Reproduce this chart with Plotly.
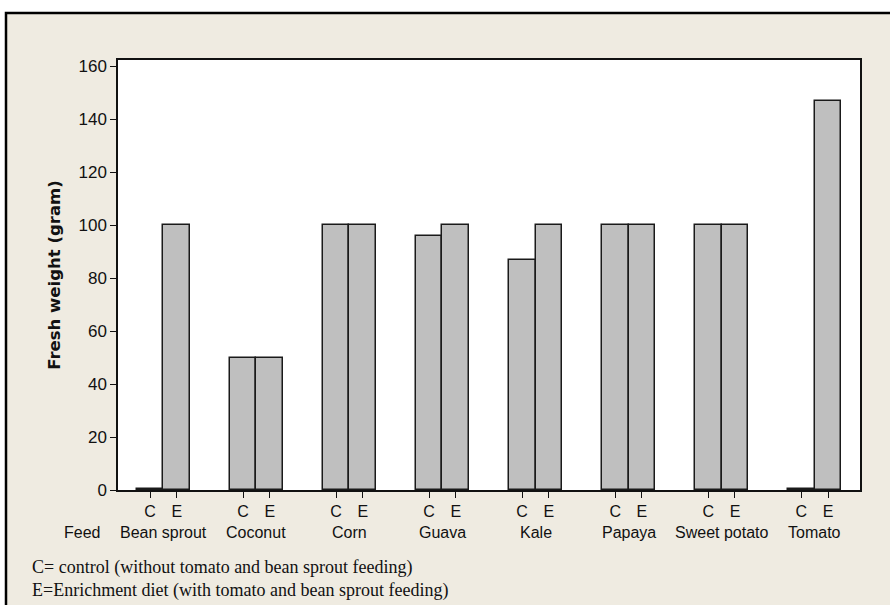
import plotly.graph_objects as go

feeds = ["Bean sprout", "Coconut", "Corn", "Guava", "Kale", "Papaya", "Sweet potato", "Tomato"]
control = [0.5, 50, 100, 96, 87, 100, 100, 0.5]
enrich = [100, 50, 100, 100, 100, 100, 100, 147]
sub_labels = ["C", "E"]
y_ticks = [0, 20, 40, 60, 80, 100, 120, 140, 160]
y_title = "Fresh weight (gram)"
x_axis_label = "Feed"
notes = ["C= control (without tomato and bean sprout feeding)",
         "E=Enrichment diet (with tomato and bean sprout feeding)"]

W, H = 890, 605
L, R, T, B = 118, 30, 60, 115
pw, ph = W - L - R, H - T - B

group_step = 3.477
xc = [i * group_step for i in range(len(feeds))]
xe = [v + 1 for v in xc]
pad = 1.196

def px_x(px):
    return (px - L) / pw

def px_y(py):
    return (H - B - py) / ph

bar_style = dict(color="#BFBFBF", line=dict(color="#1a1a1a", width=1.5))
fig = go.Figure()
fig.add_trace(go.Bar(x=xc, y=control, width=1.0, marker=bar_style, name="C"))
fig.add_trace(go.Bar(x=xe, y=enrich, width=1.0, marker=bar_style, name="E"))

tickvals = []
ticktext = []
for a, b in zip(xc, xe):
    tickvals += [a, b]
    ticktext += sub_labels

font = "Liberation Sans"
fig.update_layout(
    width=W, height=H,
    margin=dict(l=L, r=R, t=T, b=B),
    paper_bgcolor="white",
    plot_bgcolor="rgba(0,0,0,0)",
    showlegend=False,
    bargap=0,
    font=dict(family=font, size=16, color="#111"),
    xaxis=dict(range=[-pad, xe[-1] + pad], tickvals=tickvals, ticktext=ticktext,
               ticks="outside", ticklen=6, tickwidth=1.2, tickcolor="#111",
               showline=True, linecolor="#111", linewidth=1.5, mirror=True,
               showgrid=False, zeroline=False, tickfont=dict(size=16)),
    yaxis=dict(range=[0, 162.3], tickvals=y_ticks,
               ticks="outside", ticklen=6, tickwidth=1.2, tickcolor="#111",
               showline=True, linecolor="#111", linewidth=1.5, mirror=True,
               showgrid=False, zeroline=False, tickfont=dict(size=17),
               title=dict(text="<b>" + y_title + "</b>",
                          font=dict(family="DejaVu Sans", size=16.5), standoff=14)),
)

# outer beige frame and white plot area
fig.add_shape(type="rect", xref="paper", yref="paper",
              x0=px_x(6), x1=px_x(905), y0=px_y(620), y1=px_y(13),
              fillcolor="#EFEBE1", line=dict(color="black", width=2.5), layer="below")
fig.add_shape(type="rect", xref="paper", yref="paper",
              x0=0, x1=1, y0=0, y1=1, fillcolor="white", line=dict(width=0), layer="below")

for a, b, name in zip(xc, xe, feeds):
    fig.add_annotation(x=(a + b) / 2, xref="x", y=px_y(532), yref="paper",
                       text=name, showarrow=False, xanchor="center", yanchor="middle",
                       font=dict(family=font, size=16))
fig.add_annotation(x=px_x(82), xref="paper", y=px_y(532), yref="paper",
                   text=x_axis_label, showarrow=False, xanchor="center", yanchor="middle",
                   font=dict(family=font, size=16))
for t, yy in zip(notes, [567, 590]):
    fig.add_annotation(x=px_x(30), xref="paper", y=px_y(yy), yref="paper",
                       text=t, showarrow=False, xanchor="left", yanchor="middle",
                       font=dict(family="Liberation Serif", size=18, color="#111"))

fig.write_html("out.html", config={"displayModeBar": False},
               post_script="document.body.style.margin='0';document.body.style.overflow='hidden';")
